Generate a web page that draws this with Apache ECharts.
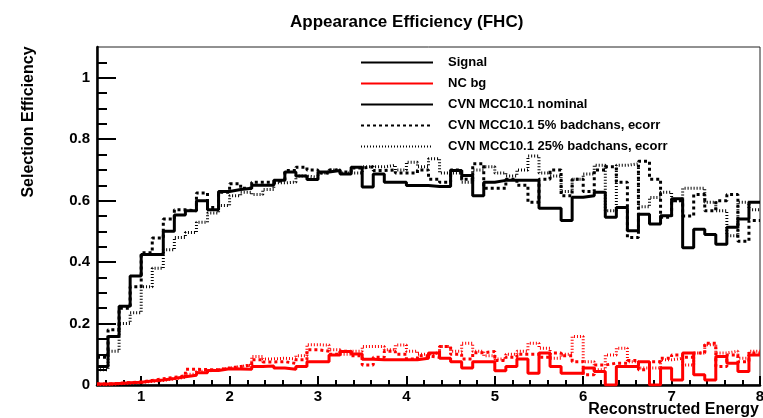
<!DOCTYPE html>
<html>
<head>
<meta charset="utf-8">
<script src="https://cdn.jsdelivr.net/npm/echarts@6.0.0/dist/echarts.min.js"></script>
<style>html,body{margin:0;padding:0;background:#fff}#c{width:763px;height:418px}</style>
</head>
<body>
<div id="c"></div>
<script>
// histogram binning (x: reconstructed energy)
const binStart = 0.5;
const binWidth = 0.125;

const signalNominal = [0.06,0.158,0.256,0.355,0.425,0.425,0.50,0.553,0.567,0.60,0.57,0.63,0.636,0.64,0.65,0.65,0.666,0.693,0.68,0.669,
0.693,0.698,0.687,0.709,0.644,0.687,0.66,0.66,0.649,0.649,0.646,0.646,0.698,0.682,0.616,0.66,0.666,0.666,0.666,0.666,
0.575,0.575,0.535,0.611,0.616,0.627,0.546,0.578,0.502,0.556,0.524,0.551,0.606,0.447,0.507,0.49,0.458,0.513,0.54,0.595];
const signal5 = [0.09,0.18,0.25,0.32,0.43,0.478,0.54,0.57,0.567,0.625,0.578,0.627,0.655,0.64,0.66,0.66,0.666,0.698,0.709,0.70,
0.69,0.70,0.693,0.706,0.71,0.698,0.70,0.69,0.69,0.70,0.67,0.66,0.70,0.67,0.72,0.64,0.64,0.67,0.65,0.595,
0.67,0.70,0.616,0.67,0.63,0.70,0.71,0.66,0.48,0.728,0.67,0.546,0.60,0.55,0.62,0.567,0.60,0.62,0.468,0.535];
const signal25 = [0.05,0.11,0.20,0.235,0.32,0.38,0.44,0.48,0.496,0.53,0.56,0.584,0.616,0.627,0.62,0.636,0.658,0.66,0.68,0.676,
0.69,0.70,0.69,0.69,0.71,0.71,0.715,0.70,0.725,0.71,0.736,0.69,0.69,0.66,0.70,0.71,0.69,0.68,0.70,0.745,
0.69,0.68,0.63,0.67,0.687,0.715,0.567,0.715,0.72,0.58,0.61,0.627,0.60,0.64,0.64,0.595,0.567,0.486,0.595,0.57];
const bgNominal = [0.003,0.005,0.007,0.009,0.013,0.016,0.021,0.027,0.032,0.04,0.047,0.053,0.052,0.051,0.06,0.062,0.055,0.051,0.06,0.076,
0.076,0.098,0.109,0.101,0.084,0.082,0.082,0.082,0.082,0.087,0.104,0.087,0.076,0.055,0.076,0.076,0.046,0.06,0.085,0.038,
0.104,0.06,0.038,0.038,0.055,0.044,0.0,0.06,0.06,0.076,0.0,0.055,0.016,0.104,0.033,0.016,0.093,0.071,0.044,0.098];
const bg5 = [0.003,0.005,0.008,0.01,0.015,0.02,0.025,0.03,0.051,0.05,0.05,0.055,0.06,0.065,0.082,0.075,0.076,0.07,0.082,0.115,
0.11,0.10,0.11,0.095,0.065,0.09,0.11,0.10,0.085,0.095,0.09,0.125,0.10,0.085,0.105,0.109,0.08,0.09,0.10,0.10,
0.09,0.104,0.095,0.076,0.033,0.065,0.071,0.071,0.08,0.05,0.076,0.087,0.098,0.09,0.104,0.136,0.06,0.098,0.076,0.104];
const bg25 = [0.002,0.004,0.006,0.008,0.012,0.015,0.02,0.025,0.035,0.045,0.05,0.055,0.06,0.065,0.093,0.085,0.087,0.085,0.095,0.131,
0.13,0.115,0.10,0.11,0.125,0.125,0.115,0.13,0.11,0.10,0.105,0.125,0.11,0.136,0.11,0.095,0.085,0.10,0.11,0.136,
0.12,0.087,0.10,0.158,0.076,0.05,0.098,0.12,0.076,0.055,0.055,0.082,0.087,0.065,0.104,0.131,0.104,0.11,0.087,0.11];

const xTickLabels = [1,2,3,4,5,6,7,8];
const xMinorTicks = [0.6,0.8,1.2,1.4,1.6,1.8,2.2,2.4,2.6,2.8,3.2,3.4,3.6,3.8,4.2,4.4,4.6,4.8,5.2,5.4,5.6,5.8,6.2,6.4,6.6,6.8,7.2,7.4,7.6,7.8];
const yTickLabels = [0,0.2,0.4,0.6,0.8,1];
const yMinorTicks = [0.05,0.1,0.15,0.25,0.3,0.35,0.45,0.5,0.55,0.65,0.7,0.75,0.85,0.9,0.95,1.05];

const legendNames = ['Signal','NC bg','CVN MCC10.1 nominal','CVN MCC10.1 5% badchans, ecorr','CVN MCC10.1 25% badchans, ecorr'];

function hist(vals){
  const pts = vals.map((v,i)=>[binStart + i*binWidth, v]);
  pts.push([binStart + vals.length*binWidth, vals[vals.length-1]]);
  return pts;
}

const FONT = '"Liberation Sans", Arial, Helvetica, sans-serif';
const SOLID = 'solid', DOT5 = [3,3], DOT25 = [1,2];

function stepSeries(name, vals, color, dash){
  return {
    name: name, type:'line', step:'end', data: hist(vals),
    symbol:'none', animation:false, clip:true,
    xAxisIndex:0, yAxisIndex:0,
    lineStyle:{color:color, width:3, type:dash, cap:'butt'},
    itemStyle:{color:color}
  };
}

const chart = echarts.init(document.getElementById('c'));
chart.setOption({
  backgroundColor:'#fff',
  animation:false,
  title:{
    text:'Appearance Efficiency (FHC)', left:285, top:9,
    textStyle:{fontFamily:FONT, fontSize:17, fontWeight:'bold', color:'#000'}
  },
  legend:{
    data: legendNames, orient:'vertical', left:360, top:56, padding:0,
    itemWidth:72, itemHeight:14, itemGap:8, selectedMode:false,
    itemStyle:{opacity:0},
    textStyle:{fontFamily:FONT, fontSize:13, fontWeight:'bold', color:'#000', padding:[0,0,0,10]}
  },
  grid:{left:97, right:3, top:47, bottom:33, containLabel:false, outerBoundsMode:'none',
        show:true, borderColor:'#222', borderWidth:1, backgroundColor:'transparent'},
  xAxis:[{
    type:'value', min:0.5, max:8, position:'bottom',
    name:'Reconstructed Energy', nameLocation:'end', nameGap:-1, nameMoveOverlap:false,
    nameTextStyle:{fontFamily:FONT, fontSize:16, fontWeight:'bold', color:'#000', align:'right', verticalAlign:'top', padding:[17,0,0,0]},
    axisLine:{show:true, onZero:false, lineStyle:{color:'#000', width:2.5}},
    axisTick:{show:true, inside:true, length:9, customValues:xTickLabels, lineStyle:{color:'#000', width:2}},
    axisLabel:{show:true, customValues:xTickLabels, margin:4, fontFamily:FONT, fontSize:15, fontWeight:'bold', color:'#000'},
    splitLine:{show:false}
  },{
    type:'value', min:0.5, max:8, position:'bottom', offset:0,
    axisLine:{show:false}, axisLabel:{show:false}, splitLine:{show:false},
    axisTick:{show:true, inside:true, length:5, customValues:xMinorTicks, lineStyle:{color:'#000', width:2}}
  }],
  yAxis:[{
    type:'value', min:0, max:1.1, position:'left',
    name:'Selection Efficiency', nameLocation:'middle', nameGap:60, nameMoveOverlap:false,
    nameTextStyle:{fontFamily:FONT, fontSize:16, fontWeight:'bold', color:'#000', padding:[0,0,0,188]},
    axisLine:{show:true, onZero:false, lineStyle:{color:'#000', width:2.5}},
    axisTick:{show:true, inside:true, length:19, customValues:yTickLabels, lineStyle:{color:'#000', width:2}},
    axisLabel:{show:true, customValues:yTickLabels, margin:7, fontFamily:FONT, fontSize:15, fontWeight:'bold', color:'#000'},
    splitLine:{show:false}
  },{
    type:'value', min:0, max:1.1, position:'left', offset:0,
    axisLine:{show:false}, axisLabel:{show:false}, splitLine:{show:false},
    axisTick:{show:true, inside:true, length:10, customValues:yMinorTicks, lineStyle:{color:'#000', width:2}}
  }],
  series:[
    Object.assign(stepSeries('Signal', [], '#000', SOLID), {data:[]}),
    Object.assign(stepSeries('NC bg', [], '#ff0000', SOLID), {data:[]}),
    stepSeries('CVN MCC10.1 nominal', signalNominal, '#000', SOLID),
    stepSeries('CVN MCC10.1 5% badchans, ecorr', signal5, '#000', DOT5),
    stepSeries('CVN MCC10.1 25% badchans, ecorr', signal25, '#000', DOT25),
    stepSeries('NC bg nominal', bgNominal, '#ff0000', SOLID),
    stepSeries('NC bg 5%', bg5, '#ff0000', DOT5),
    stepSeries('NC bg 25%', bg25, '#ff0000', DOT25)
  ]
});
</script>
</body>
</html>
